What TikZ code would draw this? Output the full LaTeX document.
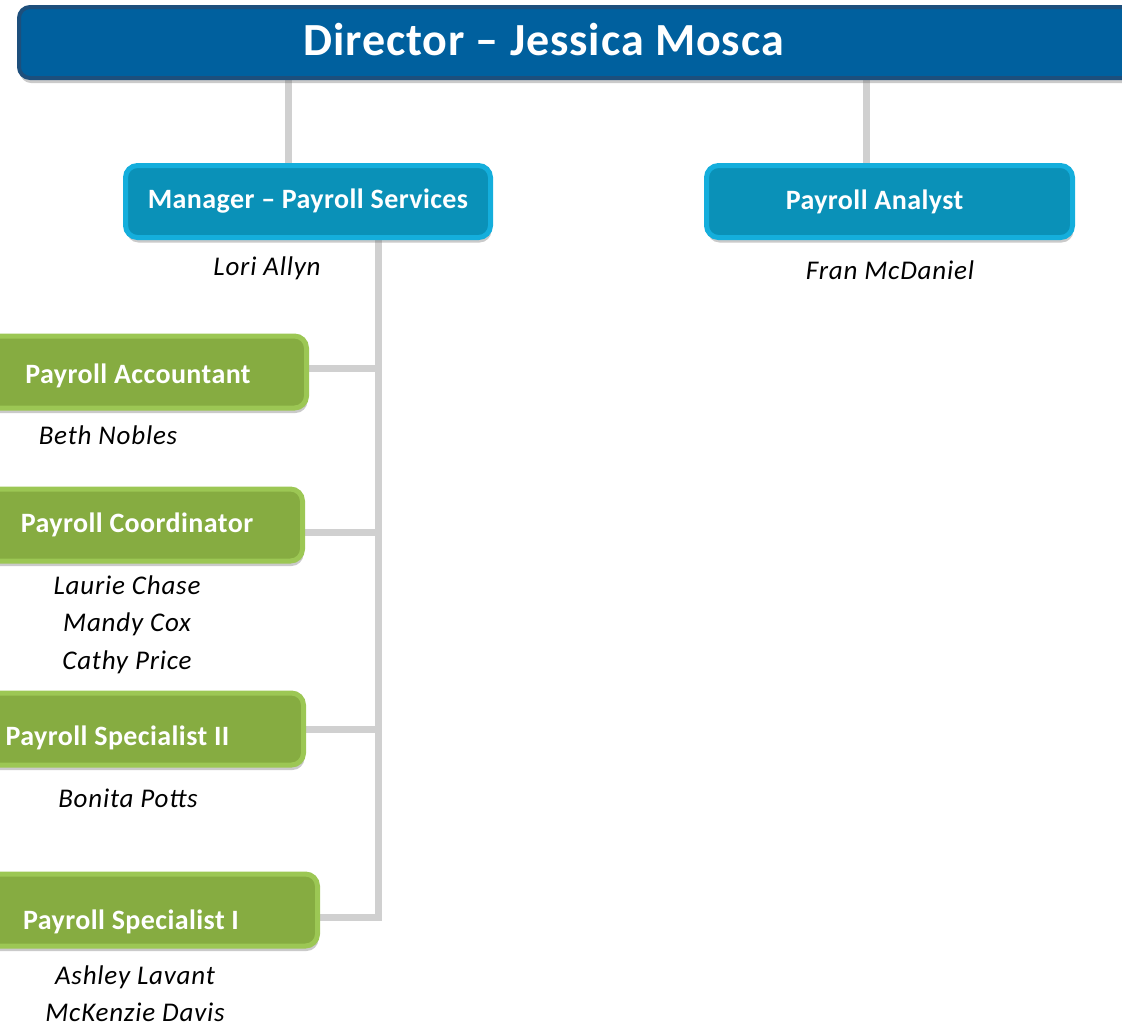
\documentclass[tikz,border=0pt]{standalone}
\usepackage{fontspec}
\setmainfont{Carlito}
\newfontfamily\boxfont[LetterSpace=1.5]{Carlito}
\newfontfamily\namefont[LetterSpace=3]{Carlito}
\newfontfamily\dirfont[LetterSpace=2]{Carlito}
\usetikzlibrary{shadows}
\definecolor{dirfill}{HTML}{00609E}
\definecolor{dirline}{HTML}{1D4F7C}
\definecolor{bluefill}{HTML}{0A91B8}
\definecolor{blueline}{HTML}{14AEDC}
\definecolor{greenfill}{HTML}{86AC41}
\definecolor{greenline}{HTML}{9CC754}
\definecolor{conncol}{HTML}{D0D0D0}
\pgfdeclarelayer{background}
\pgfsetlayers{background,main}
\begin{document}
\begin{tikzpicture}[x=1pt,y=-1pt,
  boxshadow/.style={drop shadow={shadow xshift=1pt,shadow yshift=-5pt,opacity=0.35,fill=black!60}},
  dirbox/.style={draw=dirline,fill=dirfill,line width=4pt,rounded corners=11pt,minimum width=1121pt,minimum height=71pt,boxshadow},
  bluebox/.style={draw=blueline,fill=bluefill,line width=5pt,rounded corners=12pt,minimum height=72pt,text=white,font=\boxfont\bfseries\fontsize{28}{32}\selectfont,boxshadow},
  greenbox/.style={draw=greenline,fill=greenfill,line width=5pt,rounded corners=12pt,minimum height=72pt,text=white,font=\boxfont\bfseries\fontsize{28}{32}\selectfont,boxshadow},
  person/.style={font=\namefont\itshape\fontsize{27}{37.5}\selectfont,align=center,text=black},
  conn/.style={draw=conncol,line width=7pt,line join=miter}]
\useasboundingbox (0,0) rectangle (1122,1029);

% Director
\node[dirbox] (dir) at (579.5,42.5) {};
\node[text=white,font=\dirfont\bfseries\fontsize{46}{50}\selectfont] (dirtext) at (543.5,40) {Director – Jessica Mosca};

% Second level
\node[bluebox,minimum width=365pt] (mgr) at (308,201.5) {Manager – Payroll Services};
\node[bluebox,minimum width=366pt] (ana) at (889.5,201.5) {\hspace*{-30pt}Payroll Analyst};
\node[person] (lori) at (267,268) {Lori Allyn};
\node[person] (fran) at (890,270) {Fran McDaniel};

% Third level
\node[greenbox,minimum width=337pt] (acc) at (138,372) {\raisebox{-11pt}[0pt][0pt]{Payroll Accountant}};
\node[greenbox,minimum width=331pt] (coord) at (137,525) {Payroll Coordinator};
\node[greenbox,minimum width=372pt] (spec2) at (117.5,729) {\raisebox{-16pt}[0pt][0pt]{Payroll Specialist II}};
\node[greenbox,minimum width=373pt] (spec1) at (131,910) {\raisebox{-19pt}[0pt][0pt]{Payroll Specialist I}};

\node[person] (beth) at (108,435) {Beth Nobles};
\node[person] (coordppl) at (127,624.5) {Laurie Chase\\Mandy Cox\\Cathy Price};
\node[person] (bonita) at (128,798) {Bonita Potts};
\node[person] (spec1ppl) at (135,993.5) {Ashley Lavant\\McKenzie Davis};

% Connectors
\coordinate (d1) at (288,0);
\coordinate (d2) at (866,0);
\coordinate (h1) at (378,368);
\coordinate (h2) at (378,532);
\coordinate (h3) at (378,729);
\coordinate (h4) at (378,917);
\begin{pgfonlayer}{background}
\draw[conn] (dir.south -| d1) -- (mgr.north -| d1);
\draw[conn] (dir.south -| d2) -- (ana.north -| d2);
\draw[conn] (mgr.south -| h4) -- (h4) -- (spec1.east |- h4);
\draw[conn] (h1) -- (acc.east |- h1);
\draw[conn] (h2) -- (coord.east |- h2);
\draw[conn] (h3) -- (spec2.east |- h3);
\end{pgfonlayer}
\end{tikzpicture}
\end{document}
